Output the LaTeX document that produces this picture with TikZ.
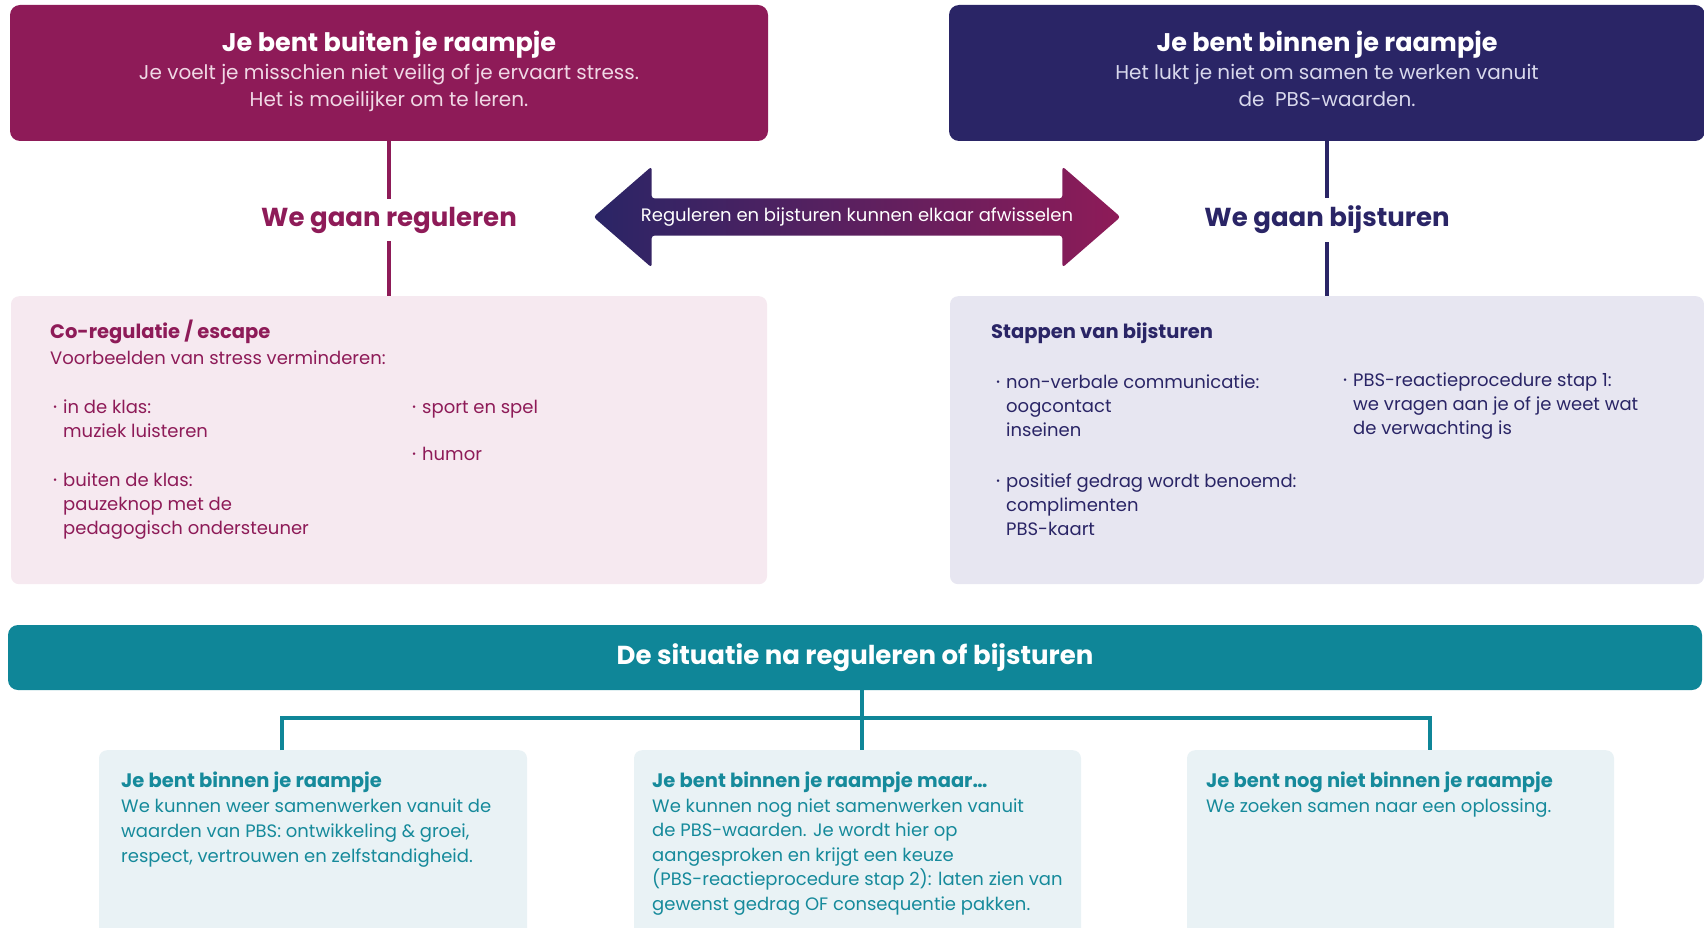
\documentclass[tikz,border=0pt]{standalone}
\usepackage{fontspec}
\setmainfont{Poppins}
\usetikzlibrary{positioning,shapes.arrows}
\definecolor{pruim}{RGB}{142,27,88}
\definecolor{nacht}{RGB}{42,37,102}
\definecolor{petrol}{RGB}{15,134,152}
\definecolor{petroltekst}{RGB}{22,138,155}
\definecolor{roze}{RGB}{246,233,240}
\definecolor{lila}{RGB}{231,230,241}
\definecolor{ijs}{RGB}{233,242,245}
\definecolor{rozewit}{RGB}{240,216,229}
\definecolor{lilawit}{RGB}{216,216,236}
\newcommand{\fs}[2]{\fontsize{#1}{#2}\selectfont}
\newcommand{\punt}{\llap{\raisebox{3.5pt}{\fs{10}{10}\textbullet}\hspace{6pt}}}
\newcommand{\kopje}[1]{{\fs{19.5}{24}\bfseries #1}}

\begin{document}
\begin{tikzpicture}[x=1pt,y=-1pt,
  vak/.style={rectangle,rounded corners=#1,inner sep=0pt},
  kop/.style={font=\fs{25.5}{28}\bfseries,text=white},
  sub/.style={font=\fs{20}{27},align=center,anchor=north,inner sep=0pt},
  tekst/.style={font=\fs{18}{24},align=left,anchor=north west,inner sep=0pt},
  keuze/.style={font=\fs{26}{30}\bfseries,inner sep=8pt},
  lijn/.style={line width=4pt}]
\useasboundingbox (0,0) rectangle (1704,928);

\node[vak=10pt,fill=pruim,minimum width=758pt,minimum height=136pt] (buiten) at (389,73) {};
\node[kop] (buitenkop) at (389,45) {Je bent buiten je raampje};
\node[sub,text=rozewit] (buitensub) at (389,64) {Je voelt je misschien niet veilig of je ervaart stress.\\Het is moeilijker om te leren.};

\node[vak=10pt,fill=nacht,minimum width=756pt,minimum height=136pt] (binnen) at (1327,73) {};
\node[kop] (binnenkop) at (1327,45) {Je bent binnen je raampje};
\node[sub,text=lilawit] (binnensub) at (1327,64) {Het lukt je niet om samen te werken vanuit\\de\ \ PBS-waarden.};

\node[keuze,text=pruim] (reguleren) at (389,220) {We gaan reguleren};
\node[keuze,text=nacht] (bijsturen) at (1327,220) {We gaan bijsturen};

\node[double arrow,double arrow head extend=32pt,double arrow tip angle=82,
  minimum height=527pt,inner ysep=9pt,rounded corners=3pt,
  left color=nacht,right color=pruim,text=white,font=\fs{18}{20}] (wissel) at (857,217)
  {Reguleren en bijsturen kunnen elkaar afwisselen};

\node[vak=8pt,fill=roze,minimum width=756pt,minimum height=288pt,anchor=north] (regvak) at (389,296) {};
\node[vak=8pt,fill=lila,minimum width=754pt,minimum height=288pt,anchor=north] (stuurvak) at (1327,296) {};

\draw[lijn,pruim] (buiten.south) -- (reguleren.north) (reguleren.south) -- (regvak.north);
\draw[lijn,nacht] (binnen.south) -- (bijsturen.north) (bijsturen.south) -- (stuurvak.north);

\node[tekst,text=pruim,font=\fs{18}{26}] (coreg) at (50,320) {\kopje{Co-regulatie / escape}\\Voorbeelden van stress verminderen:};
\node[tekst,text=pruim] (inklas) at (63,400) {\punt in de klas:\\muziek luisteren};
\node[tekst,text=pruim] (buitenklas) at (63,473) {\punt buiten de klas:\\pauzeknop met de\\pedagogisch ondersteuner};
\node[tekst,text=pruim] (sport) at (422,400) {\punt sport en spel};
\node[tekst,text=pruim] (humor) at (422,447) {\punt humor};

\node[tekst,text=nacht] (stappen) at (991,323) {\kopje{Stappen van bijsturen}};
\node[tekst,text=nacht] (nonverbaal) at (1006,375) {\punt non-verbale communicatie:\\oogcontact\\inseinen};
\node[tekst,text=nacht] (positief) at (1006,474) {\punt positief gedrag wordt benoemd:\\complimenten\\PBS-kaart};
\node[tekst,text=nacht] (reactie) at (1353,373) {\punt PBS-reactieprocedure stap 1:\\we vragen aan je of je weet wat\\de verwachting is};

\node[vak=10pt,fill=petrol,minimum width=1694pt,minimum height=65pt,text=white,font=\fs{26}{28}\bfseries] (situatie) at (855,657.5) {De situatie na reguleren of bijsturen};

\node[vak=8pt,fill=ijs,minimum width=428pt,minimum height=200pt,anchor=north] (goed) at (313,750) {};
\node[vak=8pt,fill=ijs,minimum width=447pt,minimum height=200pt,anchor=north] (maar) at (857.5,750) {};
\node[vak=8pt,fill=ijs,minimum width=427pt,minimum height=200pt,anchor=north] (nogniet) at (1400.5,750) {};

\coordinate (stam) at (862,718);
\coordinate (tak1) at (282,718);
\coordinate (tak3) at (1430,718);
\draw[lijn,petrol] (stam |- situatie.south) -- (stam |- maar.north);
\draw[lijn,petrol] (tak1 |- goed.north) -- (tak1) -- (tak3) -- (tak3 |- nogniet.north);

\node[tekst,text=petroltekst,font=\fs{18}{25}] (goedtekst) at (121,772) {\kopje{Je bent binnen je raampje}\\We kunnen weer samenwerken vanuit de\\waarden van PBS: ontwikkeling \& groei,\\respect, vertrouwen en zelfstandigheid.};
\node[tekst,text=petroltekst,font=\fs{18}{24.5}] (maartekst) at (652,772) {\kopje{Je bent binnen je raampje maar\dots}\\We kunnen nog niet samenwerken vanuit\\de PBS-waarden. Je wordt hier op\\aangesproken en krijgt een keuze\\(PBS-reactieprocedure stap 2): laten zien van\\gewenst gedrag OF consequentie pakken.};
\node[tekst,text=petroltekst,font=\fs{18}{25}] (nognietekst) at (1206,772) {\kopje{Je bent nog niet binnen je raampje}\\We zoeken samen naar een oplossing.};
\end{tikzpicture}
\end{document}
